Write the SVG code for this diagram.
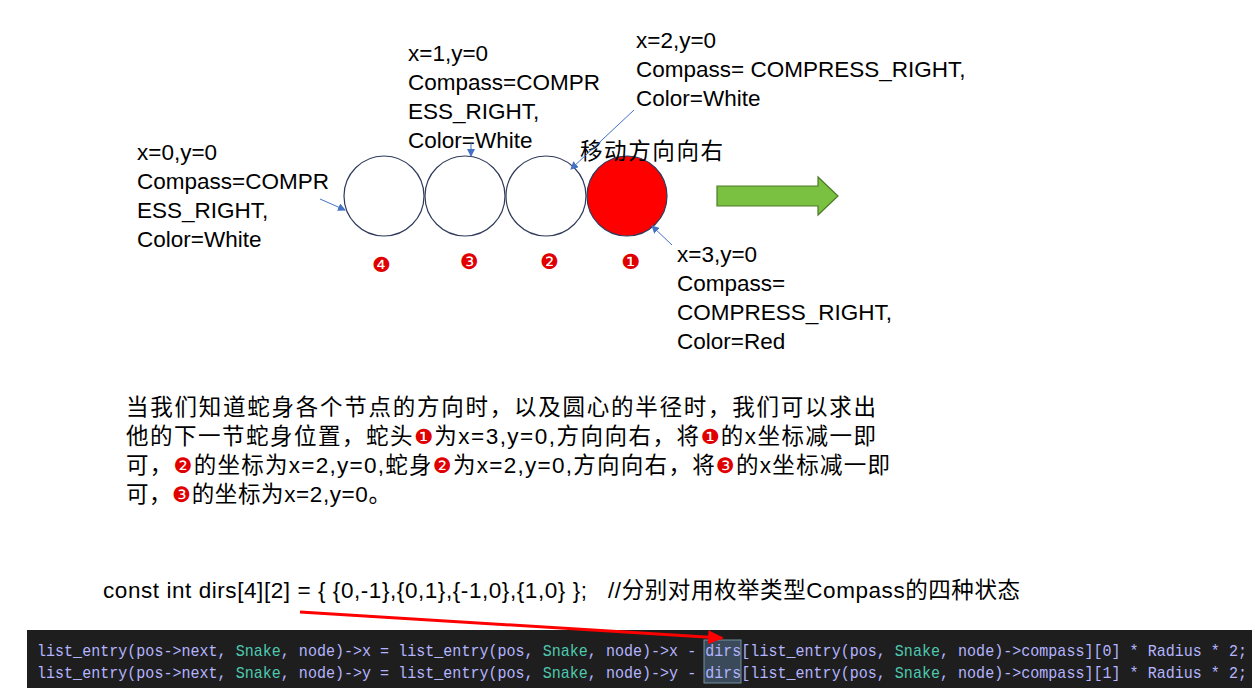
<svg xmlns="http://www.w3.org/2000/svg" width="1259" height="700" viewBox="0 0 1259 700">
<style>
.t{font-family:"Liberation Sans","Noto Sans CJK SC",sans-serif;font-size:22.5px;fill:#000}
.n{font-family:"DejaVu Sans",sans-serif;font-size:21px;fill:#e00000}
.c{font-family:"Liberation Sans Narrow","Liberation Mono",monospace;font-size:17px;fill:#b4b4ff}
.s{fill:#4ec9b0}
.bl{stroke:#4472c4;stroke-width:1;fill:none;marker-end:url(#ba)}
</style>
<defs>
<marker id="ba" markerWidth="8" markerHeight="8" refX="7" refY="4" orient="auto" markerUnits="userSpaceOnUse"><path d="M0,0L8,4L0,8z" fill="#4472c4"/></marker>
<marker id="ra" markerWidth="16" markerHeight="14" refX="14" refY="7" orient="auto" markerUnits="userSpaceOnUse"><path d="M0,0L16,7L0,14z" fill="#ff0000"/></marker>
</defs>
<rect width="1259" height="700" fill="#fff"/>
<g id="node4"><circle cx="384" cy="196" r="40" fill="#fff" stroke="#2f3a5a" stroke-width="1.2"/><text class="n" x="372" y="272">❹</text></g>
<g id="node3"><circle cx="465" cy="196" r="40" fill="#fff" stroke="#2f3a5a" stroke-width="1.2"/><text class="n" x="460" y="269">❸</text></g>
<g id="node2"><circle cx="546" cy="196" r="40" fill="#fff" stroke="#2f3a5a" stroke-width="1.2"/><text class="n" x="540" y="269">❷</text></g>
<g id="node1"><circle cx="627" cy="196" r="40" fill="#ff0000" stroke="#2f3a5a" stroke-width="1.2"/><text class="n" x="621" y="269">❶</text></g>
<g id="green-arrow"><path d="M717,186H818V177L838,196L818,215V206H717z" fill="#7ac142" stroke="#4d7a2a" stroke-width="1.2"/></g>
<g id="labels">
<text class="t" x="137" y="160">x=0,y=0</text>
<text class="t" x="137" y="189">Compass=COMPR</text>
<text class="t" x="137" y="218">ESS_RIGHT,</text>
<text class="t" x="137" y="247">Color=White</text>
<text class="t" x="408" y="61">x=1,y=0</text>
<text class="t" x="408" y="90">Compass=COMPR</text>
<text class="t" x="408" y="119">ESS_RIGHT,</text>
<text class="t" x="408" y="148">Color=White</text>
<text class="t" x="636" y="48">x=2,y=0</text>
<text class="t" x="636" y="77">Compass= COMPRESS_RIGHT,</text>
<text class="t" x="636" y="106">Color=White</text>
<text class="t" x="580" y="159" textLength="143">移动方向向右</text>
<text class="t" x="677" y="262">x=3,y=0</text>
<text class="t" x="677" y="291">Compass=</text>
<text class="t" x="677" y="320">COMPRESS_RIGHT,</text>
<text class="t" x="677" y="349">Color=Red</text>
<text class="t" x="126" y="415" textLength="750">当我们知道蛇身各个节点的方向时，以及圆心的半径时，我们可以求出</text>
<text class="t" x="126" y="444" textLength="750">他的下一节蛇身位置，蛇头<tspan class="n">❶</tspan>为x=3,y=0,方向向右，将<tspan class="n">❶</tspan>的x坐标减一即</text>
<text class="t" x="126" y="473" textLength="764">可，<tspan class="n">❷</tspan>的坐标为x=2,y=0,蛇身<tspan class="n">❷</tspan>为x=2,y=0,方向向右，将<tspan class="n">❸</tspan>的x坐标减一即</text>
<text class="t" x="126" y="502" textLength="265">可，<tspan class="n">❸</tspan>的坐标为x=2,y=0。</text>
<text class="t" x="103" y="598" textLength="917" xml:space="preserve">const int dirs[4][2] = { {0,-1},{0,1},{-1,0},{1,0} };   //分别对用枚举类型Compass的四种状态</text>
</g>
<g id="code">
<rect x="27" y="630" width="1225" height="58" fill="#1e1e1e"/>
<rect x="704" y="640" width="37" height="43" fill="#3a4a5a" stroke="#7090a0" stroke-width="1"/>
<text class="c" x="37" y="656" textLength="1210" lengthAdjust="spacingAndGlyphs">list_entry(pos-&gt;next, <tspan class="s">Snake</tspan>, node)-&gt;x = list_entry(pos, <tspan class="s">Snake</tspan>, node)-&gt;x - dirs[list_entry(pos, <tspan class="s">Snake</tspan>, node)-&gt;compass][0] * Radius * 2;</text>
<text class="c" x="37" y="678" textLength="1210" lengthAdjust="spacingAndGlyphs">list_entry(pos-&gt;next, <tspan class="s">Snake</tspan>, node)-&gt;y = list_entry(pos, <tspan class="s">Snake</tspan>, node)-&gt;y - dirs[list_entry(pos, <tspan class="s">Snake</tspan>, node)-&gt;compass][1] * Radius * 2;</text>
</g>
<g id="connectors">
<line class="bl" x1="320" y1="199" x2="345" y2="210"/>
<line class="bl" x1="471" y1="143" x2="471" y2="156"/>
<line class="bl" x1="634" y1="110" x2="571" y2="169"/>
<line class="bl" x1="672" y1="245" x2="652" y2="226"/>
<line x1="300" y1="612" x2="722" y2="638" stroke="#ff0000" stroke-width="3" marker-end="url(#ra)"/>
</g>
</svg>
